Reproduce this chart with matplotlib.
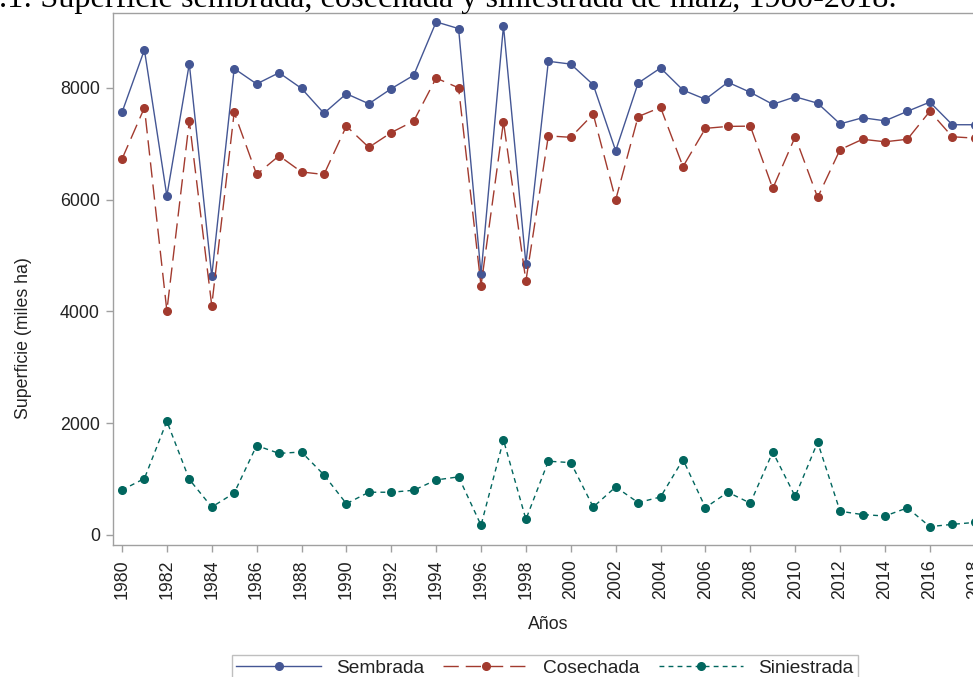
import matplotlib.pyplot as plt
import numpy as np

years = np.arange(1980, 2019)

sembrada = [7560, 8680, 6065, 8430, 4630, 8345, 8070, 8270, 7990, 7545,
            7895, 7715, 7985, 8225, 9180, 9060, 4665, 9110, 4850, 8475,
            8425, 8055, 6875, 8085, 8355, 7960, 7795, 8100, 7920, 7705,
            7840, 7725, 7355, 7465, 7410, 7580, 7745, 7340, 7340]
cosechada = [6725, 7645, 4010, 7405, 4105, 7560, 6450, 6785, 6495, 6450,
             7315, 6935, 7200, 7405, 8175, 8000, 4460, 7390, 4545, 7140,
             7115, 7530, 5995, 7485, 7650, 6590, 7275, 7310, 7315, 6200,
             7125, 6040, 6895, 7080, 7035, 7080, 7580, 7125, 7100]
siniestrada = [805, 1010, 2035, 995, 500, 750, 1600, 1460, 1485, 1075,
               560, 765, 765, 800, 985, 1040, 175, 1700, 280, 1320,
               1295, 500, 860, 580, 680, 1350, 490, 765, 570, 1485,
               690, 1660, 425, 365, 340, 485, 150, 190, 225]

series = ["Sembrada", "Cosechada", "Siniestrada"]
colors = ["#445694", "#A23A2E", "#01665E"]
dashes = [None, (11, 5), (3.5, 3)]

plt.rcParams['font.family'] = ['Liberation Sans', 'DejaVu Sans']

W, H = 973, 677
fig = plt.figure(figsize=(W / 100, H / 100), dpi=100)

# plot area runs past the right edge of the canvas
left, right, top, bottom = 113, 983.7, 13, 545
ax = fig.add_axes([left / W, 1 - bottom / H, (right - left) / W, (bottom - top) / H])

for name, vals, c, d in zip(series, [sembrada, cosechada, siniestrada], colors, dashes):
    ln, = ax.plot(years, vals, color=c, lw=1.0, marker='o', ms=5.5, label=name)
    if d is not None:
        ln.set_dashes(d)

ax.set_xlim(1979.6, 2018.4)
ax.set_ylim(-179, 9339)
ax.set_xticks(np.arange(1980, 2019, 2))
ax.set_yticks([0, 2000, 4000, 6000, 8000])
ax.tick_params(labelsize=12.8, colors='#222222', length=5, width=1)
ax.tick_params(axis='x', labelrotation=90, pad=5.5)
ax.tick_params(axis='y', pad=4.5)
ax.tick_params(axis='both', color='#A0A0A0')
for s in ax.spines.values():
    s.set_color('#A0A0A0')
    s.set_linewidth(1)

ax.set_ylabel("Superficie (miles ha)", fontsize=12.8, color='#222222')
ax.set_xlabel("Años", fontsize=12.8, color='#222222')
ax.yaxis.set_label_coords(32 / W, 0.5, transform=fig.transFigure)
ax.xaxis.set_label_coords(548 / W, 1 - 616 / H, transform=fig.transFigure)

leg = fig.legend(loc='upper center', bbox_to_anchor=(545 / W, 1 - 655 / H),
                 ncol=3, fontsize=13.8, frameon=True, fancybox=False,
                 numpoints=1, handlelength=4.4, columnspacing=1.0,
                 handletextpad=0.8, borderpad=0.25, borderaxespad=0)
leg.get_frame().set_edgecolor('#B0B0B0')
leg.get_frame().set_linewidth(1)
for t in leg.get_texts():
    t.set_color('#222222')

fig.text(-1 / W, 1 - 7.5 / H,
         ".1: Superficie sembrada, cosechada y siniestrada de maíz, 1980-2018.",
         fontsize=23.2, family='Liberation Serif', ha='left', va='baseline')

fig.savefig("out.png", dpi=100)
